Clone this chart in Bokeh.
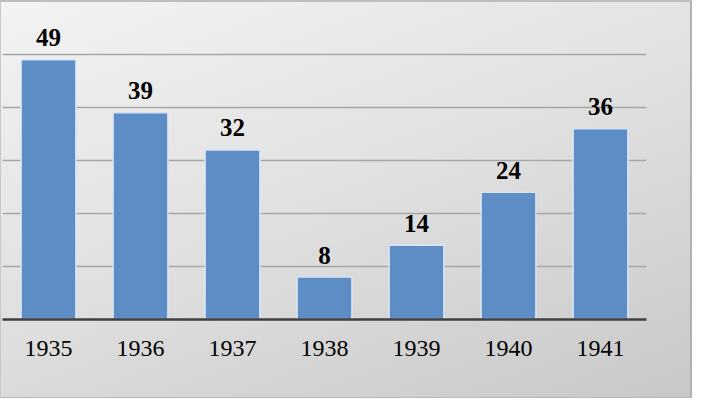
from bokeh.plotting import figure
from bokeh.models import ColumnDataSource, Range1d, FixedTicker
from bokeh.core.properties import value
from bokeh.embed import file_html
from bokeh.resources import INLINE

years = ["1935", "1936", "1937", "1938", "1939", "1940", "1941"]
counts = [49, 39, 32, 8, 14, 24, 36]
grid_ticks = [10, 20, 30, 40, 50]

src = ColumnDataSource(data=dict(x=years, y=counts, label=[str(c) for c in counts]))

p = figure(width=692, height=398, x_range=years, y_range=Range1d(0, 60),
           output_backend="svg", toolbar_location=None,
           min_border_left=2, min_border_right=46, min_border_top=1, min_border_bottom=79)

p.background_fill_alpha = 0
p.border_fill_alpha = 0
p.outline_line_color = None
p.styles = {
    "background-image": "linear-gradient(160deg, #f3f3f3 0%, #e2e2e2 45%, #c8c8c8 100%)",
    "box-shadow": "inset 0 2px 0 0 #bdbdbd, inset -2px 0 0 0 #b0b0b0, inset 0 -1px 0 0 #b8b8b8, inset 1px 0 0 0 #c8c8c8",
}

p.vbar(x="x", top="y", width=0.595, source=src, fill_color="#5e8cc4",
       line_color="#d6e4f5", line_width=1.5)

p.text(x="x", y="y", text="label", source=src, text_align="center",
       text_baseline="alphabetic", y_offset=-22,
       text_font=value("Liberation Serif"), text_font_style="bold",
       text_font_size="25px", text_color="#000000")

p.yaxis.visible = False
p.xgrid.grid_line_color = None
p.ygrid.ticker = FixedTicker(ticks=grid_ticks)
p.ygrid.grid_line_color = "#a6a6a6"
p.ygrid.grid_line_width = 1.5

ax = p.xaxis[0]
ax.axis_line_color = "#404040"
ax.axis_line_width = 2.5
ax.major_tick_line_color = None
ax.minor_tick_line_color = None
ax.major_label_text_font = "Liberation Serif"
ax.major_label_text_font_size = "24px"
ax.major_label_text_color = "#000000"
ax.major_label_standoff = 15
p.x_range.range_padding = 0

open("out.html", "w").write(file_html(p, INLINE))
